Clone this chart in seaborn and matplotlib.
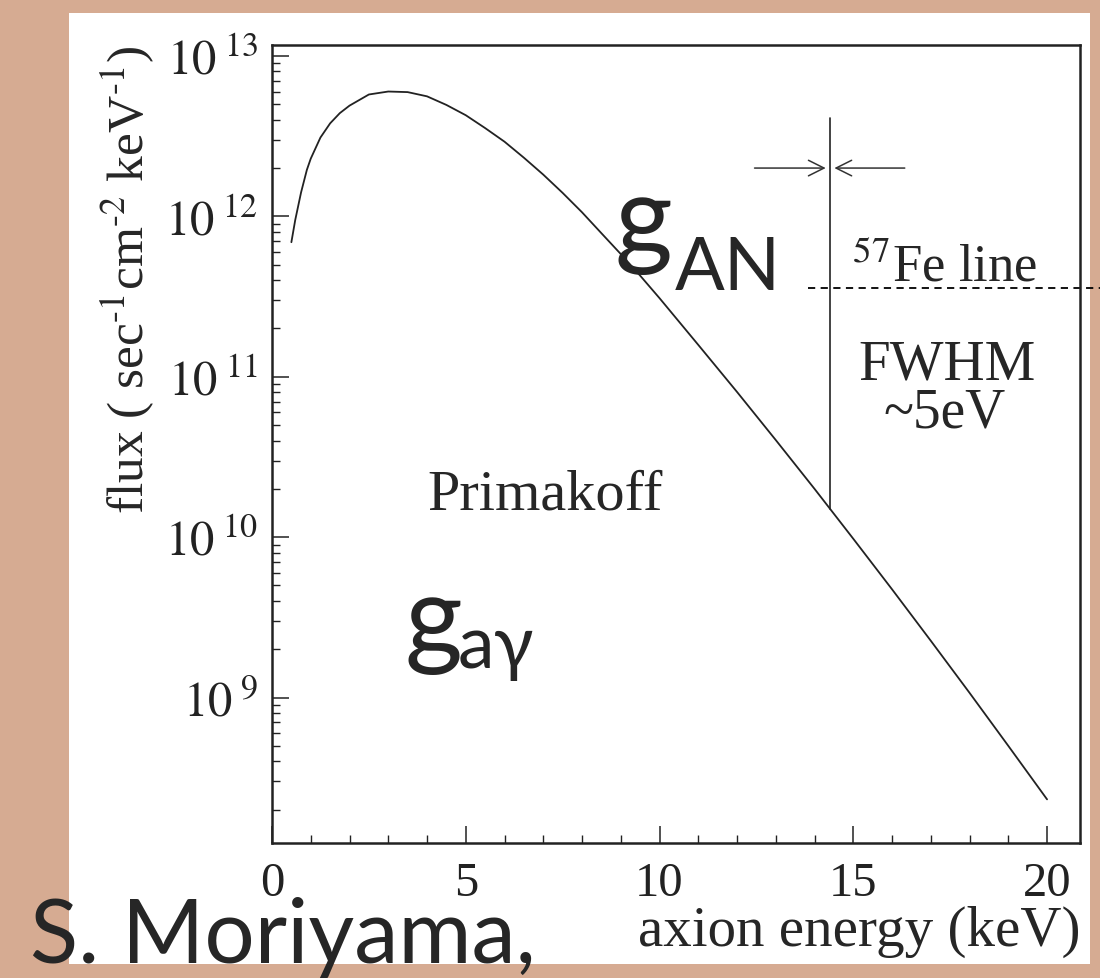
import numpy as np
import pandas as pd
import matplotlib
matplotlib.use('Agg')
import matplotlib.pyplot as plt
import matplotlib.patches as mpatches
from matplotlib.ticker import LogLocator, MultipleLocator, NullFormatter
import seaborn as sns

# axion energy (keV) and flux
energy = [0.5, 0.6, 0.75, 0.9, 1.0, 1.25, 1.5, 1.75, 2.0, 2.5, 3.0, 3.5, 4.0, 4.5,
          5.0, 5.5, 6.0, 6.5, 7.0, 7.5, 8.0, 8.5, 9.0, 9.5, 10.0, 11.0, 12.0,
          13.0, 14.0, 15.0, 16.0, 17.0, 18.0, 19.0, 20.0]
flux = [6.9e11, 9.5e11, 1.41e12, 1.95e12, 2.29e12, 3.1e12, 3.8e12, 4.4e12, 4.9e12,
        5.75e12, 6.0e12, 5.95e12, 5.6e12, 4.95e12, 4.27e12, 3.55e12, 2.92e12,
        2.32e12, 1.82e12, 1.40e12, 1.06e12, 7.85e11, 5.82e11, 4.27e11, 3.09e11,
        1.58e11, 8.04e10, 4.03e10, 2.0e10, 9.77e9, 4.73e9, 2.26e9, 1.07e9,
        5.0e8, 2.32e8]

# 57Fe line marker
fe_energy = 14.4
fe_bottom = 1.5e10
fe_top = 4.1e12
arrow_flux = 2.0e12
arrow_left = 12.38
arrow_right = 16.4
dash_flux = 3.6e11
dash_start = 13.83

yticks = [1e9, 1e10, 1e11, 1e12, 1e13]
ytick_labels = [r'$10^{\ 9}$', r'$10^{\ 10}$', r'$10^{\ 11}$', r'$10^{\ 12}$', r'$10^{\ 13}$']
xticks = [0, 5, 10, 15, 20]

df = pd.DataFrame({'energy': energy, 'flux': flux})

sns.set_theme(style='ticks')
plt.rcParams['font.family'] = ['Liberation Serif', 'DejaVu Serif']
plt.rcParams['mathtext.fontset'] = 'stix'

W, H = 1100, 979
fig = plt.figure(figsize=(11, 9.79), dpi=100)
fig.patch.set_facecolor('#D6AB92')

def fx(x):
    return x / W

def fy(y):
    return 1 - y / H

# white page of the scanned figure
fig.patches.append(mpatches.Rectangle((fx(69), fy(965)), fx(1090) - fx(69), fy(14) - fy(965),
                                      transform=fig.transFigure, facecolor='white',
                                      edgecolor='none', zorder=-5))

ax = fig.add_axes([fx(272), fy(844), fx(1080) - fx(272), fy(46) - fy(844)])
ax.set_zorder(1)
ax.set_facecolor('white')
sns.lineplot(data=df, x='energy', y='flux', ax=ax, color='#222222', linewidth=1.3)
ax.set_yscale('log')
ax.set_xlim(0, 20.85)
ax.set_ylim(1.24e8, 1.17e13)

ax.set_yticks(yticks)
ax.set_yticklabels(ytick_labels)
ax.yaxis.set_minor_locator(LogLocator(base=10, subs=np.arange(2, 10)))
ax.yaxis.set_minor_formatter(NullFormatter())
ax.set_xticks(xticks)
ax.set_xticklabels([str(t) for t in xticks])
ax.xaxis.set_minor_locator(MultipleLocator(1))

ax.tick_params(which='major', direction='in', length=12, width=1.1, colors='#222222',
               labelsize=35, top=False, right=False)
ax.tick_params(which='minor', direction='in', length=6, width=1.0, colors='#222222',
               top=False, right=False)
ax.tick_params(axis='y', which='major', pad=10)
ax.tick_params(axis='x', which='major', pad=13)
for s in ax.spines.values():
    s.set_color('#222222')
    s.set_linewidth(1.8)
    s.set_visible(True)
ax.set_xlabel('')
ax.set_ylabel('')

# 57Fe line and FWHM arrows
ax.plot([fe_energy, fe_energy], [fe_bottom, fe_top], color='#222222', linewidth=1.2)
ax.annotate('', xy=(fe_energy - 0.04, arrow_flux), xytext=(arrow_left, arrow_flux),
            arrowprops=dict(arrowstyle='->', color='#333333', lw=1.1, mutation_scale=28))
ax.annotate('', xy=(fe_energy + 0.04, arrow_flux), xytext=(arrow_right, arrow_flux),
            arrowprops=dict(arrowstyle='->', color='#333333', lw=1.1, mutation_scale=28))
ax.plot([dash_start, 21.45], [dash_flux, dash_flux], color='black', linewidth=1.3,
        linestyle=(0, (4, 3)), clip_on=False)

# texts from the paper (serif)
fig.text(fx(852), fy(282), '$^{57}$Fe line', fontsize=38, ha='left', va='baseline', zorder=5)
fig.text(fx(947), fy(380), 'FWHM', fontsize=41, ha='center', va='baseline', zorder=5)
fig.text(fx(945), fy(427), '~5eV', fontsize=40, ha='center', va='baseline', zorder=5)
fig.text(fx(545), fy(510), 'Primakoff', fontsize=42, ha='center', va='baseline', zorder=5)
fig.text(fx(128), fy(280), 'flux ( sec$^{\u2010 1}$cm$^{\u2010 2}$ keV$^{\u2010 1}$)',
         fontsize=37, rotation=90, ha='center', va='center', zorder=5)
fig.text(fx(1080), fy(946), 'axion energy (keV)', fontsize=41, ha='right', va='baseline',
         zorder=5)

# slide overlay texts (sans)
sans = ['Lato', 'DejaVu Sans']
fig.text(fx(615), fy(255), 'g', fontsize=80, family=sans, ha='left', va='baseline', zorder=6)
fig.text(fx(675), fy(290), 'AN', fontsize=53, family=sans, ha='left', va='baseline', zorder=6)
fig.text(fx(405), fy(655), 'g', fontsize=80, family=sans, ha='left', va='baseline', zorder=6)
fig.text(fx(458), fy(668), 'a\u03b3', fontsize=53, family=sans, ha='left', va='baseline',
         zorder=6)
fig.text(fx(30), fy(963), 'S. Moriyama,', fontsize=64, family=sans, ha='left',
         va='baseline', zorder=6)

fig.savefig('out.png', dpi=100, facecolor=fig.get_facecolor())
